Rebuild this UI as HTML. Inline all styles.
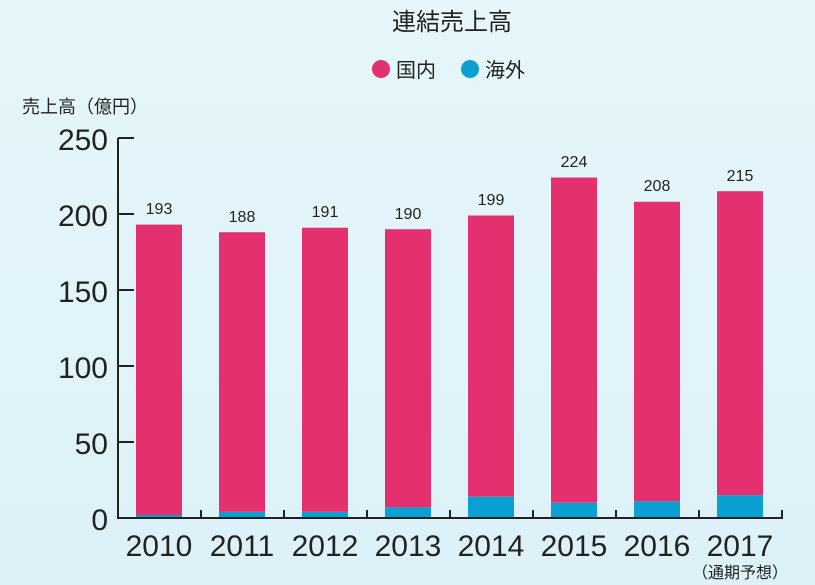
<!DOCTYPE html>
<html><head><meta charset="utf-8"><style>
body{margin:0;width:815px;height:585px;overflow:hidden;background:linear-gradient(180deg,#e6f6fa,#dcf2f8);}
svg{display:block}
text{font-family:"Liberation Sans","Noto Sans CJK JP",sans-serif;fill:#222}
</style></head><body>
<svg width="815" height="585" viewBox="0 0 815 585">
<text x="452" y="30" font-size="24" text-anchor="middle">連結売上高</text>
<circle cx="381" cy="69" r="9" fill="#e5306f"/><text x="396" y="77" font-size="20">国内</text>
<circle cx="470" cy="69" r="9" fill="#0aa0d3"/><text x="485" y="77" font-size="20">海外</text>
<text x="22" y="113" font-size="18">売上高（億円）</text>
<g font-size="30" text-anchor="end" fill="#222">
<text x="108" y="150">250</text><text x="108" y="226">200</text><text x="108" y="302">150</text>
<text x="108" y="378">100</text><text x="108" y="454">50</text><text x="108" y="530">0</text>
</g>
<g fill="#e5306f">
<rect x="136" y="224.6" width="46" height="290.4"/>
<rect x="219" y="232.2" width="46" height="279.7"/>
<rect x="302" y="227.7" width="46" height="284.2"/>
<rect x="385" y="229.2" width="46" height="278.2"/>
<rect x="468" y="215.5" width="46" height="281.2"/>
<rect x="551" y="177.5" width="46" height="325.3"/>
<rect x="634" y="201.8" width="46" height="299.5"/>
<rect x="717" y="191.2" width="46" height="304"/>
</g>
<g fill="#0aa0d3">
<rect x="136" y="515" width="46" height="3"/>
<rect x="219" y="511.9" width="46" height="6.1"/>
<rect x="302" y="511.9" width="46" height="6.1"/>
<rect x="385" y="507.4" width="46" height="10.6"/>
<rect x="468" y="496.7" width="46" height="21.3"/>
<rect x="551" y="502.8" width="46" height="15.2"/>
<rect x="634" y="501.3" width="46" height="16.7"/>
<rect x="717" y="495.2" width="46" height="22.8"/>
</g>
<g font-size="16" text-anchor="middle">
<text x="159" y="214">193</text><text x="242" y="222">188</text><text x="325" y="217">191</text>
<text x="408" y="219">190</text><text x="491" y="205">199</text><text x="574" y="167">224</text>
<text x="657" y="191">208</text><text x="740" y="181">215</text>
</g>
<g font-size="30" text-anchor="middle">
<text x="159" y="556">2010</text><text x="242" y="556">2011</text><text x="325" y="556">2012</text>
<text x="408" y="556">2013</text><text x="491" y="556">2014</text><text x="574" y="556">2015</text>
<text x="657" y="556">2016</text><text x="740" y="556">2017</text>
</g>
<g stroke="#222" stroke-width="2" fill="none">
<line x1="118" y1="138" x2="118" y2="519"/>
<line x1="117" y1="518" x2="783" y2="518"/>
<line x1="118" y1="138" x2="134" y2="138"/><line x1="118" y1="214" x2="134" y2="214"/>
<line x1="118" y1="290" x2="134" y2="290"/><line x1="118" y1="366" x2="134" y2="366"/>
<line x1="118" y1="442" x2="134" y2="442"/>
<line x1="201" y1="518" x2="201" y2="510"/><line x1="284" y1="518" x2="284" y2="510"/>
<line x1="367" y1="518" x2="367" y2="510"/><line x1="450" y1="518" x2="450" y2="510"/>
<line x1="533" y1="518" x2="533" y2="510"/><line x1="616" y1="518" x2="616" y2="510"/>
<line x1="699" y1="518" x2="699" y2="510"/><line x1="782" y1="518" x2="782" y2="510"/>
</g>
<text x="740" y="578" font-size="16" text-anchor="middle">（通期予想）</text>
</svg>
</body></html>
